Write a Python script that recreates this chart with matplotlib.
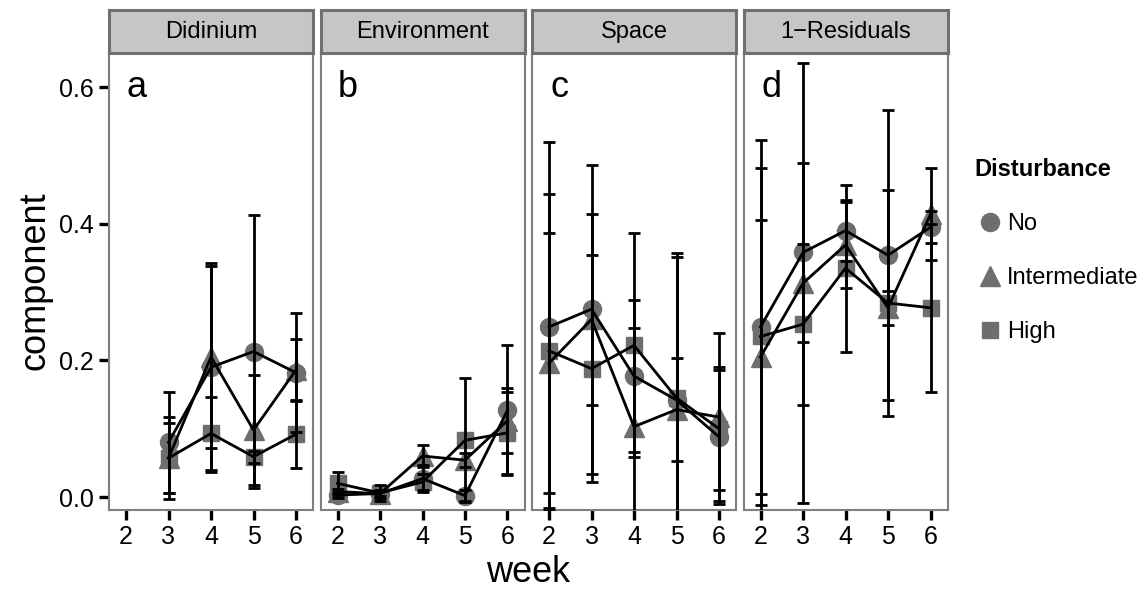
import numpy as np
import matplotlib
matplotlib.use("Agg")
import matplotlib.pyplot as plt
from matplotlib.lines import Line2D

plt.rcParams["font.family"] = ["Liberation Sans", "DejaVu Sans"]

# facets and levels
components = ["Didinium", "Environment", "Space", "1\u2212Residuals"]
letters = ["a", "b", "c", "d"]
levels = ["No", "Intermediate", "High"]
weeks = [2, 3, 4, 5, 6]
nan = np.nan

# mean component per facet (rows) and week (cols), one block per disturbance level
mean_no = [[nan, 0.080, 0.190, 0.213, 0.182],
           [0.003, 0.005, 0.027, 0.002, 0.127],
           [0.249, 0.275, 0.177, 0.142, 0.088],
           [0.249, 0.358, 0.390, 0.354, 0.395]]
se_no = [[nan, 0.074, 0.153, 0.200, 0.087],
         [0.005, 0.006, 0.020, 0.008, 0.095],
         [0.270, 0.140, 0.111, 0.210, 0.098],
         [0.273, 0.131, 0.045, 0.212, 0.023]]

mean_int = [[nan, 0.057, 0.205, 0.098, 0.186],
            [0.008, 0.005, 0.060, 0.054, 0.112],
            [0.196, 0.260, 0.103, 0.128, 0.117],
            [0.205, 0.313, 0.369, 0.277, 0.414]]
se_int = [[nan, 0.060, 0.133, 0.081, 0.045],
          [0.004, 0.004, 0.016, 0.010, 0.047],
          [0.190, 0.226, 0.144, 0.075, 0.123],
          [0.200, 0.322, 0.063, 0.025, 0.067]]

mean_high = [[nan, 0.057, 0.093, 0.059, 0.092],
             [0.020, 0.006, 0.022, 0.083, 0.094],
             [0.214, 0.188, 0.222, 0.145, 0.100],
             [0.235, 0.253, 0.335, 0.284, 0.277]]
se_high = [[nan, 0.051, 0.054, 0.009, 0.050],
           [0.017, 0.012, 0.012, 0.091, 0.060],
           [0.230, 0.166, 0.164, 0.212, 0.090],
           [0.246, 0.118, 0.122, 0.165, 0.123]]

series = [(mean_no, se_no, "o", 13), (mean_int, se_int, "^", 14), (mean_high, se_high, "s", 12)]
grey = "#6e6e6e"
tick_font = ["Liberation Sans Narrow", "Liberation Sans", "DejaVu Sans"]

W, H = 1147, 590
fig = plt.figure(figsize=(W / 100, H / 100), dpi=100)

panel_w = 204
for i, comp in enumerate(components):
    left = 109 + i * 211.5
    ax = fig.add_axes([left / W, 1 - 510 / H, panel_w / W, (510 - 53) / H])
    for means, ses, mk, ms in series:
        m = np.array(means[i])
        s = np.array(ses[i])
        ax.plot(weeks, m, ls="none", marker=mk, ms=ms, mfc=grey, mec=grey, zorder=2)
        ax.plot(weeks, m, color="black", lw=2.0, zorder=3)
        ax.errorbar(weeks, m, yerr=s, fmt="none", ecolor="black",
                    elinewidth=2.0, capsize=4.3, capthick=2.0, zorder=4)
    ax.text(2.25, 0.6, letters[i], fontsize=26, ha="center", va="center")
    ax.set_xlim(1.6, 6.4)
    ax.set_ylim(-0.019, 0.65)
    ax.set_xticks(weeks)
    ax.set_xticklabels([str(w) for w in weeks], family=tick_font)
    ax.set_yticks([0.0, 0.2, 0.4, 0.6])
    ax.set_yticklabels(["0.0", "0.2", "0.4", "0.6"], family=tick_font)
    ax.tick_params(length=7, width=2.4, labelsize=18, color="black", pad=4)
    if i > 0:
        ax.tick_params(left=False, labelleft=False)
    for sp in ax.spines.values():
        sp.set_color("#7f7f7f")
        sp.set_linewidth(1.5)

    # facet strip
    sx = fig.add_axes([left / W, 1 - 53 / H, panel_w / W, 43 / H])
    sx.set_facecolor("#c6c6c6")
    sx.set_xticks([])
    sx.set_yticks([])
    for sp in sx.spines.values():
        sp.set_color("#707070")
        sp.set_linewidth(2.2)
    sx.text(0.5, 0.48, comp, fontsize=17, ha="center", va="center", transform=sx.transAxes)

fig.text(35 / W, 1 - 281 / H, "component", rotation=90, fontsize=26, ha="center", va="center")
fig.text(528 / W, 1 - 573 / H, "week", fontsize=26, ha="center", va="center")

handles = [Line2D([], [], ls="none", marker=mk, ms=ms, mfc=grey, mec=grey)
           for _, _, mk, ms in series]
fig.legend(handles, levels, title="Disturbance", loc="upper left",
           bbox_to_anchor=(963 / W, 1 - 146 / H), frameon=False, fontsize=17,
           title_fontproperties={"weight": "bold", "size": 17}, alignment="left",
           handlelength=1.3, handletextpad=0.05, labelspacing=1.36, borderpad=0)

fig.savefig("out.png", dpi=100)
